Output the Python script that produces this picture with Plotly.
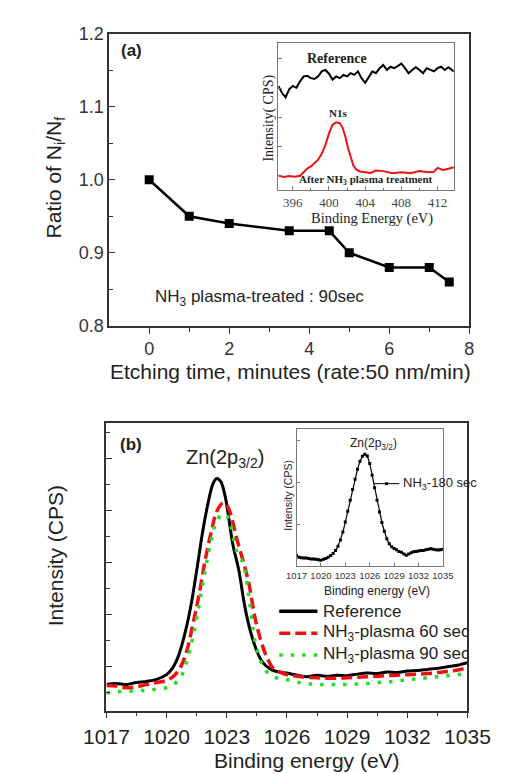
import plotly.graph_objects as go

W, H = 507, 774

# ---------------- data: panel (a) ----------------
etch_time = [0, 1, 2, 3.5, 4.5, 5, 6, 7, 7.5]
ratio_ni_nf = [1.00, 0.95, 0.94, 0.93, 0.93, 0.90, 0.88, 0.88, 0.86]

# inset (a): N1s spectra (arbitrary units)
n1s_ref_x = [394.4, 394.8, 395.2, 395.6, 396.0, 396.4, 396.8, 397.2, 397.6, 398.0, 398.4, 398.8,
             399.2, 399.6, 400.0, 400.4, 400.8, 401.2, 401.6, 402.0, 402.4, 402.8, 403.2, 403.6,
             404.0, 404.4, 404.8, 405.2, 405.6, 406.0, 406.4, 406.8, 407.2, 407.6, 408.0, 408.4,
             408.8, 409.2, 409.6, 410.0, 410.4, 410.8, 411.2, 411.6, 412.0, 412.4, 412.8, 413.2, 413.8]
n1s_ref_y = [3.57, 3.34, 3.18, 3.46, 3.57, 3.51, 3.73, 3.90, 3.92, 3.84, 3.81, 3.90,
             4.07, 4.12, 3.99, 3.79, 3.90, 3.84, 3.95, 3.90, 4.01, 3.95, 4.07, 3.84,
             3.68, 3.90, 4.07, 4.01, 4.18, 4.29, 4.12, 4.23, 4.18, 4.25, 4.34, 4.18,
             4.01, 4.12, 4.21, 4.12, 4.01, 4.18, 4.12, 4.07, 4.18, 4.23, 4.12, 4.21, 4.07]
n1s_nh3_x = [394.4, 395.0, 395.6, 396.2, 396.8, 397.2, 397.6, 398.0, 398.4, 398.8, 399.2, 399.6,
             400.0, 400.4, 400.8, 401.2, 401.5, 401.8, 402.1, 402.4, 402.7, 403.0, 403.4, 404.0,
             404.6, 405.2, 406.0, 407.0, 408.0, 409.0, 410.0, 411.0, 411.6, 412.0, 412.6, 413.2, 413.8]
n1s_nh3_y = [0.51, 0.46, 0.49, 0.47, 0.50, 0.62, 0.75, 0.82, 0.92, 1.05, 1.25, 1.55,
             1.95, 2.25, 2.33, 2.30, 2.15, 1.85, 1.45, 1.10, 0.85, 0.72, 0.65, 0.62,
             0.60, 0.68, 0.66, 0.59, 0.62, 0.59, 0.66, 0.62, 0.64, 0.77, 0.70, 0.74, 0.79]

# ---------------- data: panel (b) ----------------
zn_ref_x = [1017.0, 1017.5, 1018.0, 1018.5, 1019.0, 1019.5, 1020.0, 1020.3, 1020.6, 1020.9, 1021.2,
            1021.5, 1021.8, 1022.1, 1022.3, 1022.5, 1022.7, 1022.9, 1023.1, 1023.3, 1023.6, 1023.9,
            1024.2, 1024.5, 1024.8, 1025.2, 1025.6, 1026.0, 1026.5, 1027.0, 1027.5, 1028.0, 1028.5,
            1029.0, 1029.5, 1030.0, 1030.5, 1031.0, 1031.5, 1032.0, 1032.5, 1033.0, 1033.5, 1034.0,
            1034.5, 1035.0]
zn_ref_y = [0.66, 0.68, 0.66, 0.70, 0.72, 0.76, 0.85, 0.98, 1.22, 1.62, 2.15,
            2.85, 3.60, 4.20, 4.50, 4.61, 4.55, 4.30, 3.85, 3.35, 2.85, 2.15,
            1.65, 1.30, 1.08, 0.95, 0.90, 0.88, 0.84, 0.81, 0.84, 0.82, 0.84,
            0.83, 0.86, 0.88, 0.87, 0.90, 0.89, 0.92, 0.93, 0.95, 0.97, 1.00,
            1.03, 1.08]
zn_60_x = [1017.0, 1017.5, 1018.0, 1018.5, 1019.0, 1019.5, 1020.0, 1020.4, 1020.7, 1021.0, 1021.3,
           1021.6, 1021.9, 1022.2, 1022.5, 1022.8, 1023.0, 1023.2, 1023.5, 1023.8, 1024.1, 1024.4,
           1024.7, 1025.0, 1025.3, 1025.7, 1026.0, 1026.5, 1027.0, 1027.5, 1028.0, 1028.5, 1029.0,
           1029.5, 1030.0, 1030.5, 1031.0, 1031.5, 1032.0, 1032.5, 1033.0, 1033.5, 1034.0, 1034.5, 1035.0]
zn_60_y = [0.64, 0.63, 0.60, 0.62, 0.66, 0.70, 0.74, 0.84, 1.00, 1.30, 1.80,
           2.35, 3.00, 3.55, 3.98, 4.14, 4.10, 3.92, 3.45, 3.05, 2.60, 1.95,
           1.50, 1.18, 0.98, 0.89, 0.85, 0.82, 0.80, 0.79, 0.78, 0.78, 0.79,
           0.80, 0.81, 0.82, 0.83, 0.84, 0.85, 0.86, 0.87, 0.89, 0.91, 0.94, 0.98]
zn_90_x = [1017.0, 1017.5, 1018.0, 1018.5, 1019.0, 1019.5, 1020.0, 1020.4, 1020.7, 1021.0, 1021.3,
           1021.6, 1021.9, 1022.2, 1022.5, 1022.8, 1023.0, 1023.2, 1023.5, 1023.8, 1024.1, 1024.4,
           1024.7, 1025.0, 1025.4, 1025.8, 1026.2, 1026.6, 1027.0, 1027.5, 1028.0, 1028.5, 1029.0,
           1029.5, 1030.0, 1030.5, 1031.0, 1031.5, 1032.0, 1032.5, 1033.0, 1033.5, 1034.0, 1034.5, 1035.0]
zn_90_y = [0.50, 0.52, 0.53, 0.54, 0.55, 0.57, 0.60, 0.68, 0.80, 1.10, 1.55,
           2.15, 2.80, 3.40, 3.80, 3.93, 3.90, 3.70, 3.20, 3.00, 2.35, 1.50,
           1.10, 0.90, 0.80, 0.76, 0.74, 0.70, 0.68, 0.66, 0.66, 0.66, 0.66,
           0.67, 0.68, 0.70, 0.71, 0.73, 0.75, 0.77, 0.79, 0.81, 0.83, 0.85, 0.87]

# inset (b): NH3 180 sec
zn_180_x = [1017.0, 1017.3, 1017.6, 1017.9, 1018.2, 1018.5, 1018.8, 1019.1, 1019.4, 1019.7, 1020.0,
            1020.3, 1020.6, 1020.9, 1021.2, 1021.5, 1021.8, 1022.1, 1022.4, 1022.7, 1023.0, 1023.3,
            1023.6, 1023.9, 1024.2, 1024.5, 1024.8, 1025.1, 1025.4, 1025.7, 1026.0, 1026.3, 1026.6,
            1026.9, 1027.2, 1027.5, 1027.8, 1028.1, 1028.4, 1028.7, 1029.0, 1029.3, 1029.6, 1029.9,
            1030.2, 1030.5, 1030.8, 1031.1, 1031.4, 1031.7, 1032.0, 1032.3, 1032.6, 1032.9, 1033.2,
            1033.5, 1033.8, 1034.1, 1034.4, 1034.7, 1035.0]
zn_180_y = [0.26, 0.22, 0.21, 0.20, 0.20, 0.19, 0.18, 0.18, 0.17, 0.16, 0.15,
            0.17, 0.19, 0.22, 0.26, 0.31, 0.38, 0.48, 0.63, 0.82, 1.06, 1.32,
            1.58, 1.84, 2.08, 2.32, 2.51, 2.63, 2.68, 2.64, 2.46, 2.18, 1.88,
            1.58, 1.30, 1.05, 0.84, 0.66, 0.54, 0.47, 0.43, 0.40, 0.36, 0.34,
            0.30, 0.27, 0.30, 0.33, 0.35, 0.36, 0.37, 0.38, 0.38, 0.40, 0.41,
            0.42, 0.41, 0.40, 0.39, 0.40, 0.41]

legend_labels = ["Reference", "NH<sub>3</sub>-plasma 60 sec", "NH<sub>3</sub>-plasma 90 sec"]

SANS = "Liberation Sans, Arial, sans-serif"
SERIF = "Liberation Serif, Times New Roman, serif"
NARROW = "Liberation Sans Narrow, Arial Narrow, Liberation Sans, sans-serif"


def px(x):
    return x / W


def py(y):
    return 1 - y / H


fig = go.Figure()

# panel (a) main
fig.add_trace(go.Scatter(x=etch_time, y=ratio_ni_nf, mode="lines+markers",
                         line=dict(color="black", width=2.5),
                         marker=dict(symbol="square", size=9, color="black"),
                         xaxis="x", yaxis="y", showlegend=False))
# panel (a) inset
fig.add_trace(go.Scatter(x=n1s_ref_x, y=n1s_ref_y, mode="lines",
                         line=dict(color="black", width=2), xaxis="x2", yaxis="y2", showlegend=False))
fig.add_trace(go.Scatter(x=n1s_nh3_x, y=n1s_nh3_y, mode="lines",
                         line=dict(color="#ee1111", width=2), xaxis="x2", yaxis="y2", showlegend=False))
# panel (b) main
fig.add_trace(go.Scatter(x=zn_ref_x, y=zn_ref_y, mode="lines", line=dict(color="black", width=3, shape="spline"),
                         xaxis="x3", yaxis="y3", showlegend=False))
fig.add_trace(go.Scatter(x=zn_60_x, y=zn_60_y, mode="lines",
                         line=dict(color="#ee1111", width=3.5, dash="11px,5px", shape="spline"),
                         xaxis="x3", yaxis="y3", showlegend=False))
fig.add_trace(go.Scatter(x=zn_90_x, y=zn_90_y, mode="lines",
                         line=dict(color="#22dd22", width=3.5, dash="3.5px,8px", shape="spline"),
                         xaxis="x3", yaxis="y3", showlegend=False))
# panel (b) inset
fig.add_trace(go.Scatter(x=zn_180_x, y=zn_180_y, mode="lines+markers",
                         line=dict(color="black", width=1.2),
                         marker=dict(symbol="square", size=3, color="black"),
                         xaxis="x4", yaxis="y4", showlegend=False))

axcol = "#333333"
tickcol = "#333333"

layout = dict(
    width=W, height=H, margin=dict(l=0, r=0, t=0, b=0),
    paper_bgcolor="white", plot_bgcolor="rgba(0,0,0,0)", showlegend=False,
    font=dict(family=SANS, color="#222222"),
    xaxis=dict(domain=[px(86), px(482)], range=[-1, 8], anchor="y",
               tickvals=[0, 2, 4, 6, 8], ticks="outside", ticklen=6, tickwidth=1.3, tickcolor=axcol,
               minor=dict(tickvals=[1, 3, 5, 7], ticks="outside", ticklen=4, tickwidth=1.2, tickcolor=axcol),
               showline=True, linecolor=axcol, linewidth=1.5, mirror=True, showgrid=False, zeroline=False,
               tickfont=dict(size=18, color=tickcol, family=SANS)),
    yaxis=dict(domain=[py(316), py(16)], range=[0.8, 1.2], anchor="x",
               tickvals=[0.8, 0.9, 1.0, 1.1, 1.2], ticktext=["0.8", "0.9", "1.0", "1.1", "1.2"],
               ticks="inside", ticklen=6, tickwidth=1.3, tickcolor=axcol,
               minor=dict(tickvals=[0.85, 0.95, 1.05, 1.15], ticks="inside", ticklen=4, tickwidth=1.2, tickcolor=axcol),
               showline=True, linecolor=axcol, linewidth=1.5, mirror=True, showgrid=False, zeroline=False,
               tickfont=dict(size=18, color=tickcol, family=SANS)),
    xaxis2=dict(domain=[px(272), px(465)], range=[394.4, 413.8], anchor="y2",
                tickvals=[396, 400, 404, 408, 412], ticks="inside", ticklen=4, tickcolor="#777777",
                minor=dict(tickvals=[398, 402, 406, 410], ticks="inside", ticklen=2, tickcolor="#777777"),
                showline=True, linecolor="#777777", linewidth=1, mirror=True, showgrid=False, zeroline=False,
                tickfont=dict(size=13, color="#444444", family=SERIF), tickangle=0),
    yaxis2=dict(domain=[py(177), py(26)], range=[0, 5.03], anchor="x2",
                tickvals=[0.5, 1.5, 2.5, 3.5, 4.5], showticklabels=False, ticks="inside", ticklen=4,
                tickcolor="#777777",
                showline=True, linecolor="#777777", linewidth=1, mirror=True, showgrid=False, zeroline=False),
    xaxis3=dict(domain=[px(83), px(480)], range=[1017, 1035], anchor="y3",
                tickvals=[1017, 1020, 1023, 1026, 1029, 1032, 1035], ticks="outside", ticklen=6,
                tickwidth=1.3, tickcolor=axcol,
                minor=dict(tickvals=[1018.5, 1021.5, 1024.5, 1027.5, 1030.5, 1033.5], ticks="outside",
                           ticklen=4, tickwidth=1.2, tickcolor=axcol),
                showline=True, linecolor=axcol, linewidth=1.5, mirror=True, showgrid=False, zeroline=False,
                tickfont=dict(size=21, color="#222222", family=SANS), tickangle=0),
    yaxis3=dict(domain=[py(711), py(416)], range=[0.16, 5.67], anchor="x3",
                tickvals=[1, 2, 3, 4, 5], showticklabels=False, ticks="inside", ticklen=6, tickwidth=1.3,
                tickcolor=axcol,
                minor=dict(tickvals=[0.5, 1.5, 2.5, 3.5, 4.5, 5.5], ticks="inside", ticklen=4, tickwidth=1.2,
                           tickcolor=axcol),
                showline=True, linecolor=axcol, linewidth=1.5, mirror=True, showgrid=False, zeroline=False),
    xaxis4=dict(domain=[px(292), px(453)], range=[1017, 1035], anchor="y4",
                tickvals=[1017, 1020, 1023, 1026, 1029, 1032, 1035], ticks="inside", ticklen=3,
                tickcolor="#777777", tickangle=0,
                showline=True, linecolor="#777777", linewidth=1, mirror=True, showgrid=False, zeroline=False,
                tickfont=dict(size=9.5, color="#333333", family=NARROW)),
    yaxis4=dict(domain=[py(563), py(422)], range=[0, 3.28], anchor="x4",
                tickvals=[1, 2, 3], showticklabels=False, ticks="inside", ticklen=3, tickcolor="#777777",
                showline=True, linecolor="#777777", linewidth=1, mirror=True, showgrid=False, zeroline=False),
)
fig.update_layout(**layout)


def ann(text, x, y, size, family=SANS, color="#222222", xanchor="center", yanchor="middle", angle=0):
    fig.add_annotation(text=text, x=px(x), y=py(y), xref="paper", yref="paper", showarrow=False,
                       xanchor=xanchor, yanchor=yanchor, textangle=angle,
                       font=dict(size=size, family=family, color=color))


# panel (a) texts
ann("<b>(a)</b>", 110, 33, 17)
ann("NH<sub>3</sub> plasma-treated : 90sec", 134, 287, 17, xanchor="left")
ann("Ratio of N<sub>i</sub>/N<sub>f</sub>", 26, 163, 21, angle=-90)
ann("Etching time, minutes (rate:50 nm/min)", 285, 363, 21)
# inset (a)
ann("<b>Reference</b>", 337, 42, 14, family=SERIF)
ann("<b>N1s</b>", 338, 98, 11, family=SERIF)
ann("<b>After NH<sub>3</sub> plasma treatment</b>", 368, 166, 11, family=SERIF)
ann("Intensity( CPS)", 262, 103, 14, family=SERIF, angle=-90)
ann("Binding Energy (eV)", 375, 206, 14.5, family=SERIF)

# panel (b) texts
ann("<b>(b)</b>", 110, 438, 17)
ann("Zn(2p<sub>3/2</sub>)", 213, 452, 20)
ann("Intensity (CPS)", 27, 552, 21, angle=-90)
ann("Binding energy (eV)", 303, 762, 21)
# inset (b)
ann("Zn(2p<sub>3/2</sub>)", 377, 437, 12, family=NARROW)
ann("Intensity (CPS)", 283, 490, 10.5, family=NARROW, angle=-90)
ann("Binding energy (eV)", 380, 588, 12, family=NARROW)
ann("NH<sub>3</sub>-180 sec", 407, 478, 13, family=NARROW, xanchor="left")
fig.add_shape(type="line", xref="paper", yref="paper", x0=px(377), x1=px(405), y0=py(478), y1=py(478),
              line=dict(color="black", width=1))
fig.add_shape(type="rect", xref="paper", yref="paper", x0=px(389.5), x1=px(392.5), y0=py(479.5), y1=py(476.5),
              line=dict(color="black", width=0), fillcolor="black")

# legend (b)
leg_styles = [dict(color="black", width=3.5),
              dict(color="#ee1111", width=3.5, dash="11px,5px"),
              dict(color="#22dd22", width=3.5, dash="3.5px,8px")]
for i, (lab, st) in enumerate(zip(legend_labels, leg_styles)):
    yy = 609 + i * 22.5
    fig.add_shape(type="line", xref="paper", yref="paper", x0=px(273), x1=px(315), y0=py(yy), y1=py(yy),
                  line=st)
    ann(lab, 319, yy, 17, xanchor="left")

fig.write_html("out.html")
